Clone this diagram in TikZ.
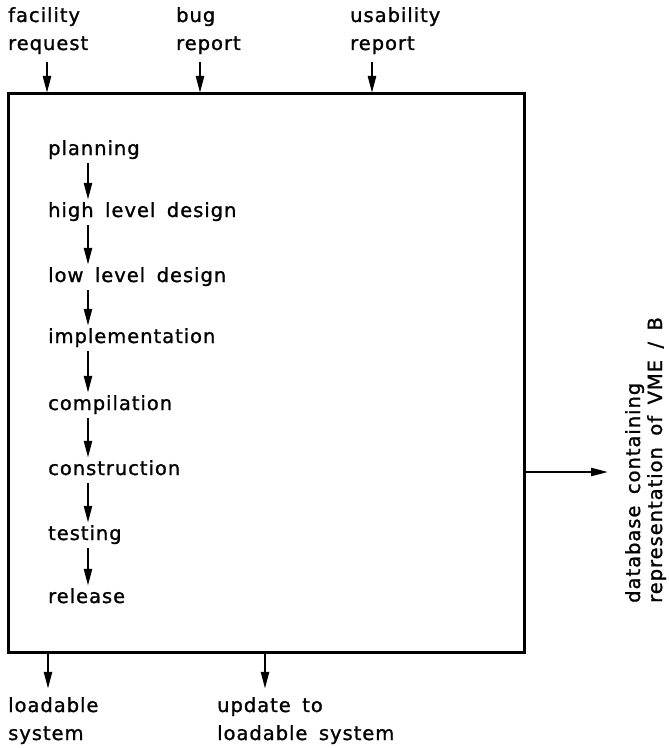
\documentclass[tikz,border=0pt]{standalone}
\usepackage{fontspec}
\setmainfont{DejaVu Sans}[LetterSpace=5,WordSpace=1.6,FakeBold=1.2]
\usetikzlibrary{arrows.meta}

\begin{document}
\begin{tikzpicture}[x=1bp,y=-1bp,
  label/.style={inner sep=0pt, anchor=base west, text height=14bp, text depth=4bp,
    font=\fontsize{19.5bp}{22bp}\selectfont},
  arr/.style={line width=2.4bp, -{Triangle[length=17bp,width=8bp]}},
  frame/.style={draw, line width=3bp, inner sep=0pt, outer sep=0pt}]
\useasboundingbox (0,0) rectangle (669,748);

% main activity box
\node[frame, anchor=north west, minimum width=516bp, minimum height=559bp] (box) at (8,93) {};

% incoming items along the top
\node[label] (fac1) at (8,22) {facility};
\node[label] (fac2) at (8,50) {request};
\node[label] (bug1) at (176,22) {bug};
\node[label] (bug2) at (176,50) {report};
\node[label] (usa1) at (350,22) {usability};
\node[label] (usa2) at (350,50) {report};

\coordinate (xa) at (47,0);
\coordinate (xb) at (200,0);
\coordinate (xc) at (372,0);
\draw[arr, shorten <=8bp] (fac2.south -| xa) -- (box.north -| xa);
\draw[arr, shorten <=8bp] (bug2.south -| xb) -- (box.north -| xb);
\draw[arr, shorten <=8bp] (usa2.south -| xc) -- (box.north -| xc);

% life-cycle stages
\node[label] (s1) at (48,155) {planning};
\node[label] (s2) at (48,217) {high level design};
\node[label] (s3) at (48,282) {low level design};
\node[label] (s4) at (48,343) {implementation};
\node[label] (s5) at (48,410) {compilation};
\node[label] (s6) at (48,475) {construction};
\node[label] (s7) at (48,540) {testing};
\node[label] (s8) at (48,603) {release};

\coordinate (xf) at (88,0);
\foreach \a/\b in {s1/s2,s2/s3,s3/s4,s4/s5,s5/s6,s6/s7,s7/s8}
  \draw[arr, shorten <=4bp, shorten >=3bp] (\a.south -| xf) -- (\b.north -| xf);

% outgoing items along the bottom
\node[label] (ld1) at (8,712) {loadable};
\node[label] (ld2) at (8,740) {system};
\node[label] (up1) at (217,712) {update to};
\node[label] (up2) at (217,740) {loadable system};

\coordinate (xd) at (48,0);
\coordinate (xe) at (265,0);
\draw[arr, shorten >=9bp] (box.south -| xd) -- (ld1.north -| xd);
\draw[arr, shorten >=9bp] (box.south -| xe) -- (up1.north -| xe);

% output to the database
\coordinate (db) at (608,472);
\draw[arr] (box.east |- db) -- (db);
\node[label, rotate=90] (db1) at (640,603) {database containing};
\node[label, rotate=90] (db2) at (662,603) {representation of VME / B};
\end{tikzpicture}
\end{document}
